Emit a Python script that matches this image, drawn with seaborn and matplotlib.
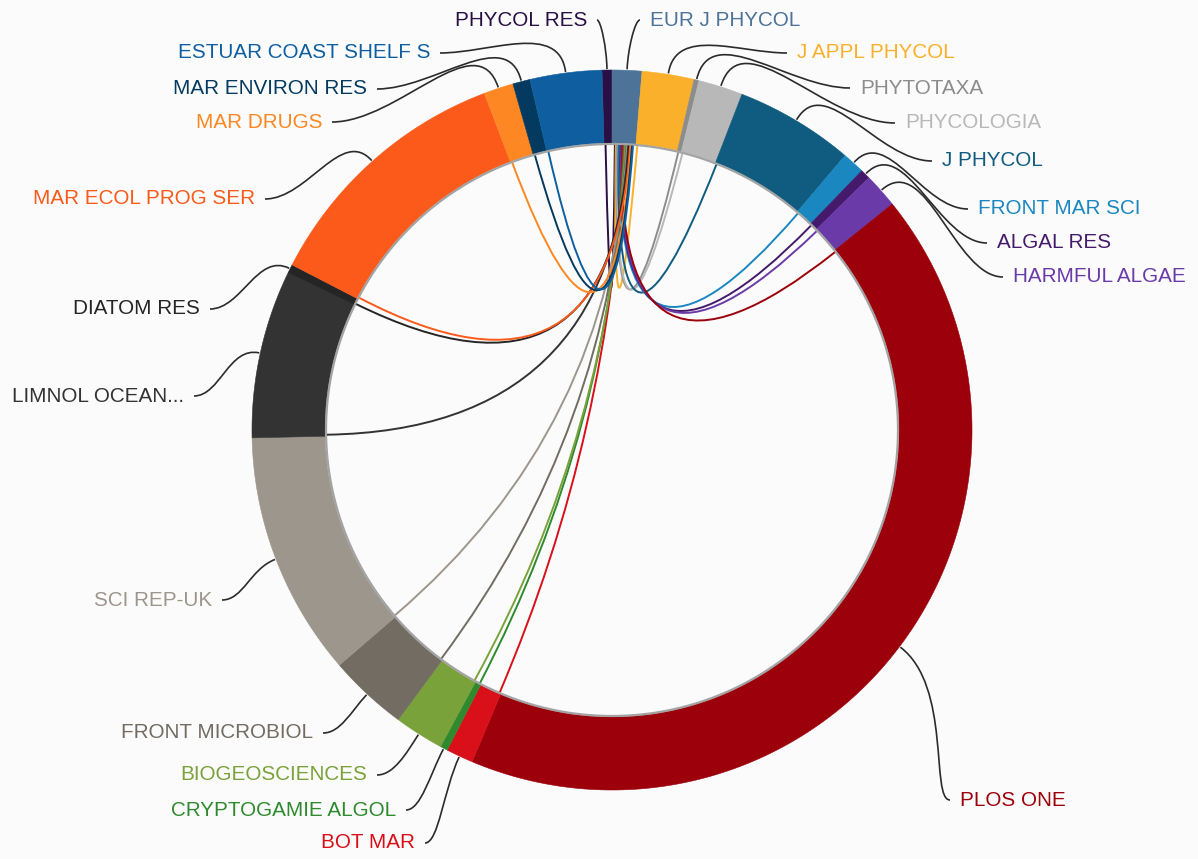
import numpy as np
import matplotlib
matplotlib.use("Agg")
import matplotlib.pyplot as plt
import seaborn as sns
from matplotlib.path import Path
from matplotlib.patches import PathPatch

# journals in clockwise order, starting just left of twelve o'clock
journals = ["PHYCOL RES", "EUR J PHYCOL", "J APPL PHYCOL", "PHYTOTAXA", "PHYCOLOGIA",
            "J PHYCOL", "FRONT MAR SCI", "ALGAL RES", "HARMFUL ALGAE", "PLOS ONE",
            "BOT MAR", "CRYPTOGAMIE ALGOL", "BIOGEOSCIENCES", "FRONT MICROBIOL",
            "SCI REP-UK", "LIMNOL OCEAN...", "DIATOM RES", "MAR ECOL PROG SER",
            "MAR DRUGS", "MAR ENVIRON RES", "ESTUAR COAST SHELF S"]
records = [4, 12, 21, 2, 18, 48, 9, 4, 14, 380, 11, 3, 20, 32, 99, 68, 3.5, 105, 12, 7, 29]
colors = ["#2a0f45", "#4d7399", "#fbb02b", "#8c8c8c", "#b8b8b8", "#0f5c80", "#1a87c0",
          "#461a6b", "#6a3aa8", "#9c000b", "#d90f1a", "#2f8a2f", "#7aa23a", "#726c62",
          "#9c968c", "#333333", "#252525", "#fc5a1a", "#fd8722", "#053a60", "#0f5fa0"]
focus = "EUR J PHYCOL"

# label layout in pixels: text anchor x, y
label_xy = {
    "PHYCOL RES": (587, 20), "EUR J PHYCOL": (650, 20), "J APPL PHYCOL": (797, 53),
    "PHYTOTAXA": (860, 88), "PHYCOLOGIA": (905, 123), "J PHYCOL": (942, 161),
    "FRONT MAR SCI": (978, 209), "ALGAL RES": (997, 243), "HARMFUL ALGAE": (1013, 277),
    "PLOS ONE": (960, 800), "BOT MAR": (415, 843), "CRYPTOGAMIE ALGOL": (396, 810),
    "BIOGEOSCIENCES": (367, 775), "FRONT MICROBIOL": (313, 733), "SCI REP-UK": (212, 600),
    "LIMNOL OCEAN...": (184, 396), "DIATOM RES": (200, 309), "MAR ECOL PROG SER": (255, 199),
    "MAR DRUGS": (322, 122), "MAR ENVIRON RES": (367, 89), "ESTUAR COAST SHELF S": (430, 53),
}

W, H = 1198, 859
cx, cy = 612, 430
r_out, r_in = 360, 287

sns.set_style("white")
plt.rcParams["font.family"] = ["Liberation Sans", "DejaVu Sans"]
palette = sns.color_palette(colors)

fig = plt.figure(figsize=(W / 100, H / 100), dpi=100)
fig.patch.set_facecolor("#fbfbfb")
ax = fig.add_axes([0, 0, 1, 1])
ax.set_facecolor("#fbfbfb")
ax.set_xlim(0, W)
ax.set_ylim(H, 0)
ax.set_aspect("equal")
ax.axis("off")


def pt(angle, r):
    a = np.deg2rad(angle)
    return cx + r * np.sin(a), cy - r * np.cos(a)


vals = np.array(records, dtype=float)
deg = vals / vals.sum() * 360
starts = np.cumsum(deg) - deg - deg[0]
ends = starts + deg
mids = (starts + ends) / 2

# ring segments
for a0, a1, c in zip(starts, ends, palette):
    t = np.linspace(a0, a1, max(int((a1 - a0) * 4), 4))
    xo, yo = pt(t, r_out)
    xi, yi = pt(t[::-1], r_in)
    ax.fill(np.r_[xo, xi], np.r_[yo, yi], color=c, lw=0.4, ec=c, zorder=2)

# inner grey rim
t = np.linspace(0, 360, 721)
ax.plot(*pt(t, r_in - 1), color="#a3a3a3", lw=1.6, zorder=3)

# chords to the focus journal
fi = journals.index(focus)
others = [i for i in range(len(journals)) if i != fi]
n = len(others)
for k, i in enumerate(others):
    src = pt(starts[i] + min(0.3, deg[i] * 0.3), r_in - 2)
    tgt_a = starts[fi] + deg[fi] * (0.1 + 0.8 * (k + 0.5) / n)
    tgt = pt(tgt_a, r_in - 2)
    path = Path([src, (cx, cy), tgt], [Path.MOVETO, Path.CURVE3, Path.CURVE3])
    ax.add_patch(PathPatch(path, fc="none", ec=palette[i], lw=1.4, zorder=4))

# labels with leader lines
for i, name in enumerate(journals):
    x, y = label_xy[name]
    left = x < cx
    sx = x + 10 if left else x - 10
    p0 = np.array([sx, y])
    p3 = np.array(pt(mids[i], r_out + 1))
    out = np.array([np.sin(np.deg2rad(mids[i])), -np.cos(np.deg2rad(mids[i]))])
    dx = p3[0] - p0[0]
    dist = np.hypot(*(p3 - p0))
    p1 = p0 + np.array([0.4 * dx, 0])
    p2 = p3 + out * np.clip(0.4 * dist, 15, 70)
    path = Path([p0, p1, p2, p3], [Path.MOVETO, Path.CURVE4, Path.CURVE4, Path.CURVE4])
    ax.add_patch(PathPatch(path, fc="none", ec="#2b2b2b", lw=1.2, zorder=5))
    ax.text(x, y, name, ha="right" if left else "left", va="center",
            fontsize=14.9, color=palette[i], zorder=6)

plt.savefig("out.png", dpi=100, facecolor=fig.get_facecolor())
plt.close()
